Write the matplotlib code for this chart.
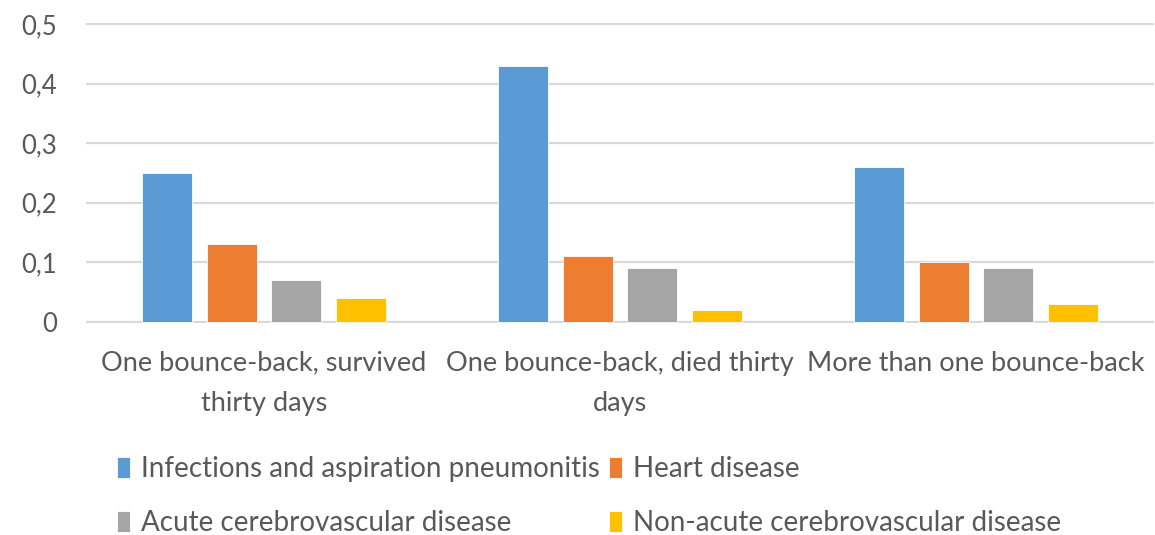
import numpy as np
import matplotlib.pyplot as plt

categorias = ['One bounce-back, survived\nthirty days',
              'One bounce-back, died thirty\ndays',
              'More than one bounce-back']
series = ['Infections and aspiration pneumonitis', 'Heart disease',
          'Acute cerebrovascular disease', 'Non-acute cerebrovascular disease']
infecciones = [0.25, 0.43, 0.26]
corazon = [0.13, 0.11, 0.10]
cerebro_agudo = [0.07, 0.09, 0.09]
cerebro_no_agudo = [0.04, 0.02, 0.03]
ticks_y = [0, 0.1, 0.2, 0.3, 0.4, 0.5]
etiquetas_y = ['0', '0,1', '0,2', '0,3', '0,4', '0,5']

colores = ['#5b9bd5', '#ed7d31', '#a5a5a5', '#ffc000']
gris_texto = '#595959'

plt.rcParams['font.family'] = ['Lato', 'DejaVu Sans']

fig = plt.figure(figsize=(11.55, 5.35), dpi=100)
ax = fig.add_axes([86 / 1155, 212 / 535, 1068 / 1155, 300 / 535])

x = np.arange(len(categorias))
paso = 0.181
ancho = 0.1404
valores = [infecciones, corazon, cerebro_agudo, cerebro_no_agudo]
barras = []
for i, (vals, col) in enumerate(zip(valores, colores)):
    b = ax.bar(x + (i - 1.5) * paso, vals, width=ancho, color=col,
               edgecolor='white', linewidth=0.6, zorder=3, label=series[i])
    barras.append(b)

ax.set_xlim(-0.5, 2.5)
ax.set_yticks(ticks_y)
ax.set_yticklabels(etiquetas_y)
ax.set_xticks(x)
ax.set_xticklabels(categorias, linespacing=1.75)
ax.tick_params(axis='y', length=0, pad=21, labelsize=18.5, labelcolor=gris_texto)
ax.tick_params(axis='x', length=0, pad=20, labelsize=19.5, labelcolor=gris_texto)
ax.grid(axis='y', color='#d9d9d9', linewidth=1.6, zorder=0)
ax.set_ylim(-0.002, 0.502)
for s in ax.spines.values():
    s.set_visible(False)

orden = [0, 2, 1, 3]
leg = fig.legend([barras[i] for i in orden], [series[i] for i in orden],
                 ncol=2, loc='upper left', bbox_to_anchor=(92 / 1155, 1 - 431 / 535),
                 frameon=False, fontsize=20, handlelength=0.45, handleheight=0.8,
                 handletextpad=0.4, columnspacing=0.35, labelspacing=1.0,
                 labelcolor=gris_texto)

fig.savefig('out.png', dpi=100, facecolor='white')
